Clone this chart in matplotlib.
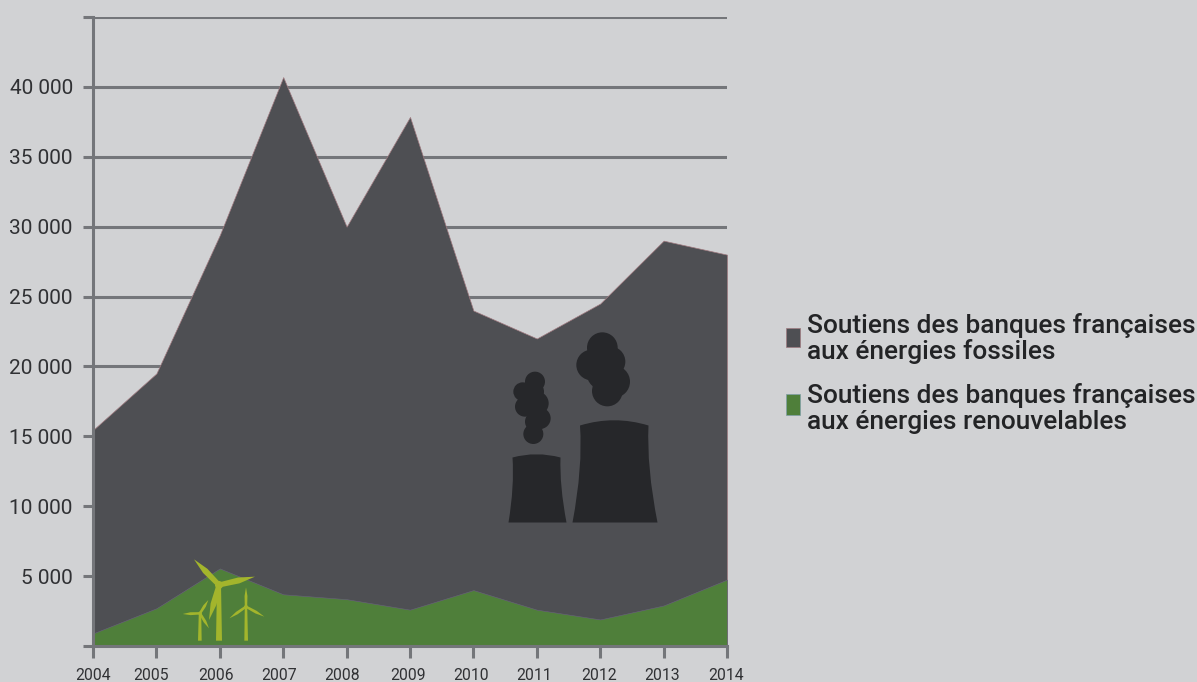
import matplotlib
matplotlib.use("Agg")
import matplotlib.pyplot as plt
from matplotlib.patches import Circle, Polygon, PathPatch, Rectangle
from matplotlib.path import Path
from matplotlib.transforms import ScaledTranslation

years = [2004, 2005, 2006, 2007, 2008, 2009, 2010, 2011, 2012, 2013, 2014]
fossiles = [15450, 19500, 29400, 40700, 30000, 37850, 24000, 22000, 24500, 29000, 28000]
renouvelables = [900, 2700, 5550, 3700, 3350, 2600, 4000, 2600, 1900, 2900, 4750]
y_ticks = [0, 5000, 10000, 15000, 20000, 25000, 30000, 35000, 40000, 45000]
y_labels = ["", "5 000", "10 000", "15 000", "20 000", "25 000", "30 000", "35 000", "40 000", ""]
legend_labels = ["Soutiens des banques françaises\naux énergies fossiles",
                 "Soutiens des banques françaises\naux énergies renouvelables"]

bg = "#d1d2d4"
gris = "#4e4f53"
vert = "#4f7f3a"
axe = "#74767a"
sombre = "#26272a"
eolienne = "#a3b52c"

W, H = 1197, 682
plt.rcParams["font.family"] = ["Roboto", "DejaVu Sans"]

fig = plt.figure(figsize=(W / 100, H / 100), dpi=100, facecolor=bg)
ax = fig.add_axes([93 / W, (H - 646) / H, (727 - 93) / W, (646 - 17) / H], facecolor=bg)

ax.fill_between(years, fossiles, color=gris, edgecolor="#a07a80", linewidth=0.5, zorder=3)
ax.fill_between(years, renouvelables, color=vert, edgecolor="#6a5f80", linewidth=0.4, zorder=4)

ax.set_xlim(2004, 2014)
ax.set_ylim(0, 45000)
ax.set_yticks(y_ticks)
ax.set_yticklabels(y_labels, fontsize=15, color="#303134")
ax.set_xticks(years)
ax.set_xticklabels(years, fontsize=11.3, color="#303134")
ax.tick_params(axis="y", length=7.5, width=2.2, color=axe, pad=7)
ax.tick_params(axis="x", length=8.5, width=2.2, color=axe, pad=7)
ax.grid(axis="y", color=axe, linewidth=2.2, zorder=1)
ax.set_axisbelow(True)
for s in ["top", "right"]:
    ax.spines[s].set_visible(False)
for s in ["left", "bottom"]:
    ax.spines[s].set_color(axe)
    ax.spines[s].set_linewidth(2.2)
    ax.spines[s].set_zorder(5)

# les annees ne sont pas tout a fait centrees sous les reperes dans l'original
decalage = [0, -5, -4, -4, -5, -2, -2, -3, -1, -2, -1]
for lab, d in zip(ax.get_xticklabels(), decalage):
    lab.set_transform(lab.get_transform() + ScaledTranslation(d / 100, 0, fig.dpi_scale_trans))

# calque en pixels pour les pictos et la legende
over = fig.add_axes([0, 0, 1, 1], facecolor="none")
over.set_xlim(0, W)
over.set_ylim(H, 0)
over.axis("off")


def tour(x0, x1, y_top, y_mid, y_bas, xb0, xb1, xw0, xw1, y_w):
    verts = [(x0, y_top), (((x0 + x1) / 2), y_mid), (x1, y_top),
             (xw1, y_w), (xb1, y_bas), (xb0, y_bas), (xw0, y_w), (x0, y_top), (x0, y_top)]
    codes = [Path.MOVETO, Path.CURVE3, Path.CURVE3, Path.CURVE3, Path.CURVE3,
             Path.LINETO, Path.CURVE3, Path.CURVE3, Path.CLOSEPOLY]
    over.add_patch(PathPatch(Path(verts, codes), fc=sombre, ec="none"))


tour(512.5, 560.5, 457.5, 451, 522.5, 508.5, 566.5, 514.5, 559.5, 486)
tour(580, 648.5, 425.5, 415, 522.5, 572.5, 657.5, 583, 646.5, 467)

fumee = [(135, 185, 30), (98, 215, 28), (105, 260, 30), (140, 250, 36), (130, 215, 32),
         (150, 295, 32), (130, 342, 30), (135, 305, 30),
         (337, 83, 46), (305, 135, 46), (360, 125, 46), (372, 185, 48), (352, 213, 46), (340, 160, 50)]
for cx, cy, r in fumee:
    over.add_patch(Circle((490 + cx / 3, 320 + cy / 3), r / 3, fc=sombre, ec="none"))


def pale(hub, tip, w):
    dx, dy = tip[0] - hub[0], tip[1] - hub[1]
    n = (dx * dx + dy * dy) ** 0.5
    px, py = -dy / n * w, dx / n * w
    mid = (hub[0] + dx * 0.55, hub[1] + dy * 0.55)
    over.add_patch(Polygon([(hub[0] + px * 0.5, hub[1] + py * 0.5), (mid[0] + px * 0.6, mid[1] + py * 0.6),
                            tip, (mid[0] - px * 0.6, mid[1] - py * 0.6),
                            (hub[0] - px * 0.5, hub[1] - py * 0.5)], fc=eolienne, ec="none"))


def rotor(hub, tips, x0, x1, w, r):
    hx, hy = hub[0] / 3, 540 + hub[1] / 3
    over.add_patch(Polygon([(x0 / 3, 540 + 302 / 3), (x1 / 3, 540 + 302 / 3),
                            (hx + (x1 - x0) / 9, hy), (hx - (x1 - x0) / 9, hy)], fc=eolienne, ec="none"))
    for t in tips:
        pale((hx, hy), (t[0] / 3, 540 + t[1] / 3), w)
    over.add_patch(Circle((hx, hy), r, fc=eolienne, ec="none"))


rotor((657, 135), [(582, 58), (765, 110), (627, 240)], 648, 666, 5.0, 4)
rotor((600, 220), [(548, 222), (625, 180), (627, 265)], 594, 605, 2.4, 1.8)
rotor((738, 200), [(738, 142), (688, 235), (793, 230)], 733, 744, 2.4, 1.8)

# legende
over.add_patch(Rectangle((785.5, 327.5), 14, 19, fc=gris, ec="#a07a80", lw=0.5))
over.add_patch(Rectangle((785.5, 393.5), 14, 21, fc=vert, ec="#7f9fa8", lw=0.5))
for lab, y0 in zip(legend_labels, [333, 403]):
    l1, l2 = lab.split("\n")
    over.text(807, y0, l1, fontsize=18.9, fontweight="medium", color="#232426", va="baseline")
    over.text(807, y0 + 26, l2, fontsize=18.9, fontweight="medium", color="#232426", va="baseline")

fig.savefig("out.png", dpi=100, facecolor=bg)
